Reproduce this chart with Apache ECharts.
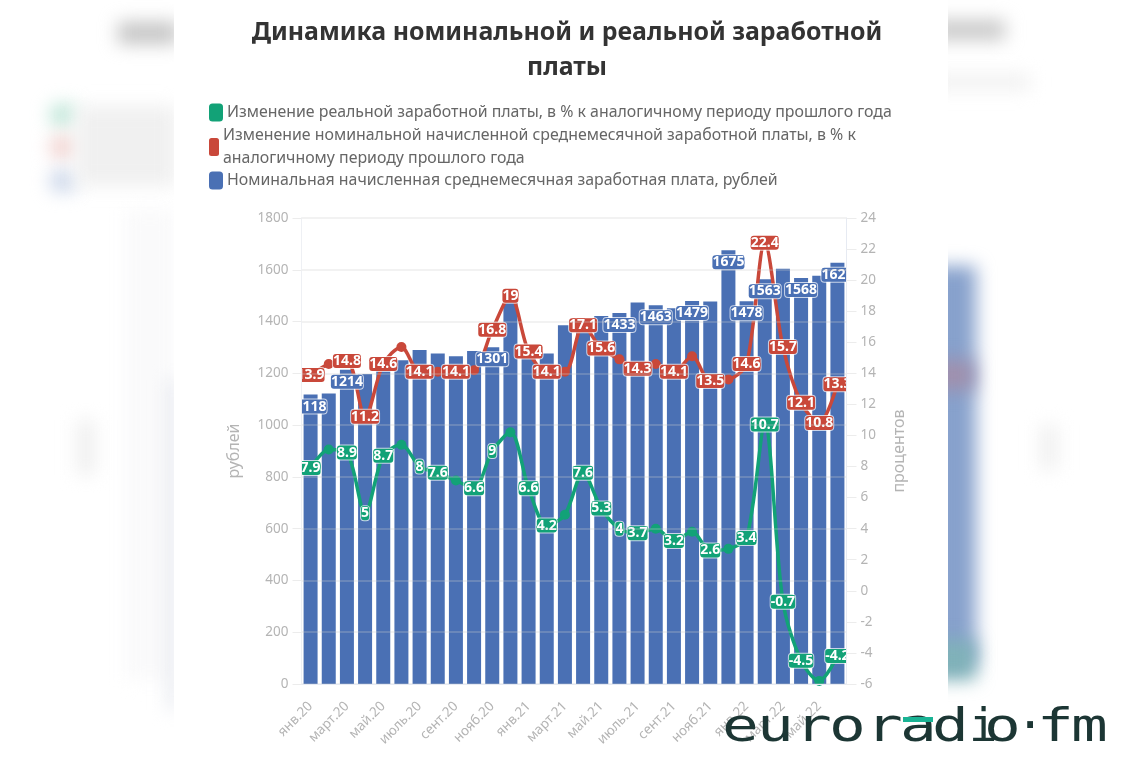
<!DOCTYPE html>
<html>
<head>
<meta charset="utf-8">
<script src="https://cdn.jsdelivr.net/npm/echarts@6/dist/echarts.min.js"></script>
<style>
  html, body { margin: 0; padding: 0; background: #fff; overflow: hidden; }
  #page { position: relative; width: 1123px; height: 761px; overflow: hidden; }
  #backdrop div { position: absolute; filter: blur(9px); }
  #panel { position: absolute; left: 174px; top: 0; width: 774px; height: 761px; background: #fff; }
  #chart { position: absolute; left: 0; top: 0; width: 1123px; height: 761px; }
</style>
</head>
<body>
<div id="page">
  <!-- размытый фон страницы за карточкой -->
  <div id="backdrop">
    <div style="left:118px;top:22px;width:60px;height:22px;background:#c4c4c4"></div>
    <div style="left:50px;top:104px;width:26px;height:22px;background:#bfe6d8;border-radius:8px"></div>
    <div style="left:50px;top:136px;width:26px;height:22px;background:#f1d2cf;border-radius:8px"></div>
    <div style="left:50px;top:170px;width:26px;height:22px;background:#ccd7ea;border-radius:8px"></div>
    <div style="left:76px;top:106px;width:100px;height:80px;background:#f0f0f0"></div>
    <div style="left:76px;top:420px;width:20px;height:55px;background:#f0f0f0"></div>
    <div style="left:125px;top:210px;width:50px;height:470px;background:#fafafb"></div>
    <div style="left:168px;top:380px;width:10px;height:330px;background:#e4e7ed"></div>
    <div style="left:930px;top:20px;width:75px;height:20px;background:#c8c8c8"></div>
    <div style="left:930px;top:75px;width:100px;height:14px;background:#efefef"></div>
    <div style="left:930px;top:266px;width:46px;height:400px;background:#87a1cc"></div>
    <div style="left:930px;top:360px;width:44px;height:30px;background:#a090ad"></div>
    <div style="left:930px;top:640px;width:46px;height:40px;background:#7fb1b8"></div>
    <div style="left:1040px;top:425px;width:18px;height:45px;background:#f0f0f0"></div>
  </div>
  <div id="panel"></div>
  <div id="chart"></div>
</div>
<script>
// подписи оси X: янв.20 ... июнь.22
var months = ['янв.20','февр.20','март.20','апр.20','май.20','июнь.20','июль.20','авг.20','сент.20','окт.20','нояб.20','дек.20',
  'янв.21','февр.21','март.21','апр.21','май.21','июнь.21','июль.21','авг.21','сент.21','окт.21','нояб.21','дек.21',
  'янв.22','февр.22','март.22','апр.22','май.22','июнь.22'];

// данные
var salary = [1118,1122,1214,1197,1240,1251,1290,1277,1266,1286,1301,1477,1290,1277,1386,1395,1421,1433,1474,1463,1451,1479,1477,1675,1478,1563,1604,1568,1577,1627];
var nominalChange = [13.9,14.6,14.8,11.2,14.6,15.7,14.1,14.1,14.1,14.2,16.8,19,15.4,14.1,14.1,17.1,15.6,14.9,14.3,14.6,14.1,15.1,13.5,13.6,14.6,22.4,15.7,12.1,10.8,13.3];
var realChange = [7.9,9.1,8.9,5,8.7,9.4,8,7.6,7.1,6.6,9,10.2,6.6,4.2,4.9,7.6,5.3,4,3.7,4,3.2,3.8,2.6,2.7,3.4,10.7,-0.7,-4.5,-5.8,-4.2];

// у каких точек на картинке видна подпись
var salaryShown = [0,2,10,17,19,21,23,24,25,27,29];
var nominalShown = [0,2,3,4,6,8,10,11,12,13,15,16,18,20,22,24,25,26,27,28,29];
var realShown = [0,2,3,4,6,7,9,10,12,13,15,16,17,18,20,22,24,25,26,27,29];

var salaryName = 'Номинальная начисленная среднемесячная заработная плата, рублей';
var nominalName = 'Изменение номинальной начисленной среднемесячной заработной платы, в % к\nаналогичному периоду прошлого года';
var realName = 'Изменение реальной заработной платы, в % к аналогичному периоду прошлого года';

var FONT = '"Noto Sans", sans-serif';
var BLUE = '#4a70b4', RED = '#c9483a', GREEN = '#12a277';
var GREY = '#b4b4b4';

// логотип: буквы и их левый край
var logoLetters = ['e','u','r','o','r','a','d','i','o','·','f','m'];
var logoLeft = [722,757,795,829,866,900,932,969,984,1016,1037,1071];

function withLabels(values, shown) {
  return values.map(function (v, i) {
    return { value: v, label: { show: shown.indexOf(i) >= 0 } };
  });
}

function pointLabel(color, position) {
  return {
    show: true,
    position: position,
    color: '#fff',
    fontFamily: FONT,
    fontWeight: 'bold',
    fontSize: 14,
    lineHeight: 14,
    textBorderColor: color,
    textBorderWidth: 1,
    backgroundColor: color,
    borderColor: 'rgba(255,255,255,0.7)',
    borderWidth: 1,
    borderRadius: 3,
    padding: [0, 0]
  };
}

function legendItem(name, left, top, w, h) {
  return {
    left: left, top: top,
    padding: 0,
    orient: 'vertical',
    data: [name],
    icon: 'roundRect',
    itemWidth: w, itemHeight: h, itemGap: 0,
    selectedMode: false,
    textStyle: { color: '#666', fontFamily: FONT, fontSize: 15.9, lineHeight: 23, padding: [0, 0, 0, -1] }
  };
}

var chart = echarts.init(document.getElementById('chart'));

var logoGraphic = logoLetters.map(function (ch, i) {
  return {
    type: 'text', zlevel: 2, z: 100,
    x: logoLeft[i], y: 752, scaleX: ch === 'i' || ch === '·' ? 1 : 1.3,
    style: { text: ch, fill: '#1c3634', font: '47px "DejaVu Sans Mono"', textVerticalAlign: 'bottom' }
  };
});

chart.setOption({
  animation: false,
  title: {
    text: 'Динамика номинальной и реальной заработной\nплаты',
    left: 562, top: 10, textAlign: 'center',
    textStyle: { color: '#333', fontFamily: FONT, fontWeight: 'bold', fontSize: 24.9, lineHeight: 35 }
  },
  legend: [
    legendItem(realName, 209, 101, 14, 18),
    legendItem(nominalName, 209, 124, 10, 18),
    legendItem(salaryName, 209, 169, 14, 18)
  ],
  grid: { left: 301.5, right: 276.5, top: 218, bottom: 77 },
  xAxis: {
    type: 'category',
    data: months,
    zlevel: 1,
    axisLine: { lineStyle: { color: '#e6eaf2' } },
    axisTick: { alignWithLabel: true, interval: 0, length: 8, lineStyle: { color: '#e6e6e6' } },
    axisLabel: { interval: 1, rotate: 45, margin: 20, color: GREY, fontFamily: FONT, fontSize: 13.5 }
  },
  yAxis: [
    {
      type: 'value', min: 0, max: 1800, interval: 200,
      zlevel: 1,
      name: 'рублей', nameLocation: 'middle', nameGap: 59,
      nameTextStyle: { color: GREY, fontFamily: FONT, fontSize: 16 },
      axisLine: { show: true, lineStyle: { color: '#eef0f4' } },
      axisTick: { show: true, length: 9, lineStyle: { color: '#ececec' } },
      axisLabel: { color: GREY, fontFamily: FONT, fontSize: 13.5, margin: 13, formatter: function (v) { return String(v); } },
      splitLine: { lineStyle: { color: 'rgba(205,205,205,0.25)', width: 2 } }
    },
    {
      type: 'value', min: -6, max: 24, interval: 2,
      zlevel: 1,
      name: 'процентов', nameLocation: 'middle', nameGap: 45,
      nameTextStyle: { color: GREY, fontFamily: FONT, fontSize: 16 },
      axisLine: { show: true, lineStyle: { color: '#e6eaf2' } },
      axisTick: { show: true, length: 10, lineStyle: { color: '#ececec' } },
      axisLabel: { color: GREY, fontFamily: FONT, fontSize: 13.5, margin: 14 },
      splitLine: { show: false }
    }
  ],
  series: [
    {
      name: salaryName, type: 'bar', yAxisIndex: 0, barWidth: 14, barGap: '-100%', z: 2,
      itemStyle: { color: BLUE },
      label: { show: false },
      data: salary
    },
    {
      name: nominalName, type: 'line', yAxisIndex: 1, smooth: 0.3, z: 4,
      symbol: 'circle', symbolSize: 10,
      lineStyle: { color: RED, width: 3.5 }, itemStyle: { color: RED },
      label: pointLabel(RED, 'inside'),
      data: withLabels(nominalChange, nominalShown)
    },
    {
      name: realName, type: 'line', yAxisIndex: 1, smooth: 0.3, z: 3,
      symbol: 'circle', symbolSize: 10,
      lineStyle: { color: GREEN, width: 3.5 }, itemStyle: { color: GREEN },
      label: pointLabel(GREEN, 'inside'),
      data: withLabels(realChange, realShown)
    },
    {
      // подписи столбцов лежат поверх линий
      name: 'подписи', type: 'bar', yAxisIndex: 0, barWidth: 14, barGap: '-100%', z: 5,
      itemStyle: { color: 'transparent' },
      label: pointLabel(BLUE, 'insideTop'),
      data: withLabels(salary, salaryShown)
    }
  ],
  graphic: [
    // подписи обрезаны по краям области построения, как в оригинале
    { type: 'rect', zlevel: 0, z: 100, shape: { x: 280, y: 340, width: 21, height: 160 }, style: { fill: '#fff' } },
    { type: 'rect', zlevel: 0, z: 100, shape: { x: 847, y: 240, width: 14, height: 430 }, style: { fill: '#fff' } },
    { type: 'rect', zlevel: 2, z: 101, shape: { x: 903, y: 717, width: 30, height: 5 }, style: { fill: '#19b394' } }
  ].concat(logoGraphic)
});
</script>
</body>
</html>
